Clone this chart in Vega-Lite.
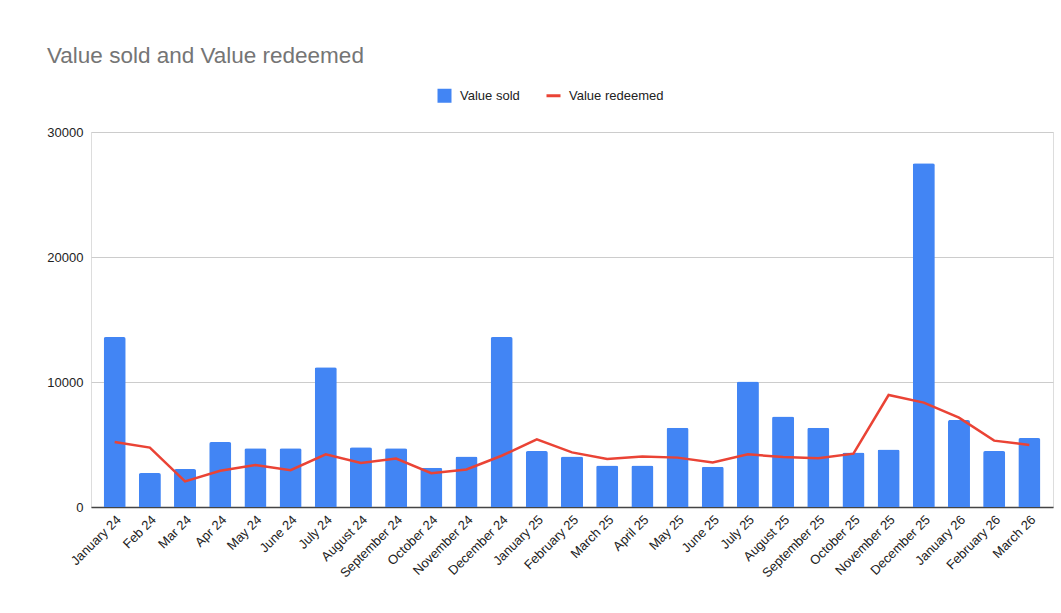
{
  "$schema": "https://vega.github.io/schema/vega-lite/v6.json",
  "width": 962,
  "height": 375,
  "autosize": {"type": "none"},
  "padding": {"left": 91, "top": 132, "right": 8, "bottom": 106},
  "background": "white",
  "title": {
    "text": "Value sold and Value redeemed",
    "anchor": "start",
    "frame": "group",
    "dx": -44,
    "offset": 22,
    "fontSize": 22.5,
    "fontWeight": "normal",
    "font": "Liberation Sans",
    "color": "#757575"
  },
  "data": {
    "values": [
      {"month": "January 24", "sold": 13600, "redeemed": 5200},
      {"month": "Feb 24", "sold": 2720, "redeemed": 4750},
      {"month": "Mar 24", "sold": 3040, "redeemed": 2050},
      {"month": "Apr 24", "sold": 5200, "redeemed": 2900},
      {"month": "May 24", "sold": 4700, "redeemed": 3360},
      {"month": "June 24", "sold": 4700, "redeemed": 2950},
      {"month": "July 24", "sold": 11180, "redeemed": 4210},
      {"month": "August 24", "sold": 4780, "redeemed": 3520},
      {"month": "September 24", "sold": 4700, "redeemed": 3870},
      {"month": "October 24", "sold": 3150, "redeemed": 2700},
      {"month": "November 24", "sold": 4050, "redeemed": 3000},
      {"month": "December 24", "sold": 13600, "redeemed": 4100},
      {"month": "January 25", "sold": 4480, "redeemed": 5410},
      {"month": "February 25", "sold": 4050, "redeemed": 4370},
      {"month": "March 25", "sold": 3330, "redeemed": 3840},
      {"month": "April 25", "sold": 3330, "redeemed": 4030},
      {"month": "May 25", "sold": 6350, "redeemed": 3950},
      {"month": "June 25", "sold": 3230, "redeemed": 3570},
      {"month": "July 25", "sold": 10050, "redeemed": 4210},
      {"month": "August 25", "sold": 7250, "redeemed": 4000},
      {"month": "September 25", "sold": 6350, "redeemed": 3900},
      {"month": "October 25", "sold": 4370, "redeemed": 4270},
      {"month": "November 25", "sold": 4610, "redeemed": 8960},
      {"month": "December 25", "sold": 27500, "redeemed": 8350},
      {"month": "January 26", "sold": 6960, "redeemed": 7150},
      {"month": "February 26", "sold": 4480, "redeemed": 5310},
      {"month": "March 26", "sold": 5520, "redeemed": 4960}
    ]
  },
  "encoding": {
    "x": {
      "field": "month",
      "type": "nominal",
      "sort": null,
      "title": null,
      "scale": {"paddingInner": 0.374, "paddingOuter": 0.36},
      "axis": {
        "labelAngle": -45,
        "labelFontSize": 13,
        "labelFont": "Liberation Sans",
        "labelColor": "#222222",
        "ticks": false,
        "labelPadding": 6,
        "domainColor": "#444444",
        "domainWidth": 1.5,
        "grid": false
      }
    }
  },
  "layer": [
    {
      "mark": {"type": "bar", "cornerRadiusTopLeft": 2, "cornerRadiusTopRight": 2},
      "encoding": {
        "y": {
          "field": "sold",
          "type": "quantitative",
          "title": null,
          "scale": {"domain": [0, 30000], "nice": false},
          "axis": {
            "values": [0, 10000, 20000, 30000],
            "format": "d",
            "labelFontSize": 13,
            "labelFont": "Liberation Sans",
            "labelColor": "#222222",
            "ticks": false,
            "domain": false,
            "labelPadding": 8,
            "gridColor": "#cccccc",
            "gridWidth": 1
          }
        },
        "color": {
          "datum": "Value sold",
          "type": "nominal",
          "scale": {"domain": ["Value sold", "Value redeemed"], "range": ["#4285F4", "#EA4335"]},
          "legend": {
            "title": null,
            "orient": "none",
            "direction": "horizontal",
            "legendX": 347,
            "legendY": -43,
            "labelFontSize": 13,
            "labelFont": "Liberation Sans",
            "labelColor": "#222222",
            "symbolSize": 196,
            "columnPadding": 20,
            "labelOffset": 9,
            "encode": {
              "symbols": {
                "update": {
                  "shape": {"signal": "datum.value === 'Value sold' ? 'square' : 'stroke'"},
                  "fill": {"signal": "datum.value === 'Value sold' ? '#4285F4' : 'transparent'"},
                  "stroke": {"signal": "datum.value === 'Value sold' ? '#4285F4' : '#EA4335'"},
                  "strokeWidth": {"signal": "datum.value === 'Value sold' ? 0 : 3"},
                  "opacity": {"value": 1},
                  "fillOpacity": {"value": 1}
                }
              }
            }
          }
        }
      }
    },
    {
      "mark": {"type": "line", "strokeWidth": 2.5},
      "encoding": {
        "y": {"field": "redeemed", "type": "quantitative"},
        "color": {"datum": "Value redeemed", "type": "nominal"}
      }
    }
  ]
}
